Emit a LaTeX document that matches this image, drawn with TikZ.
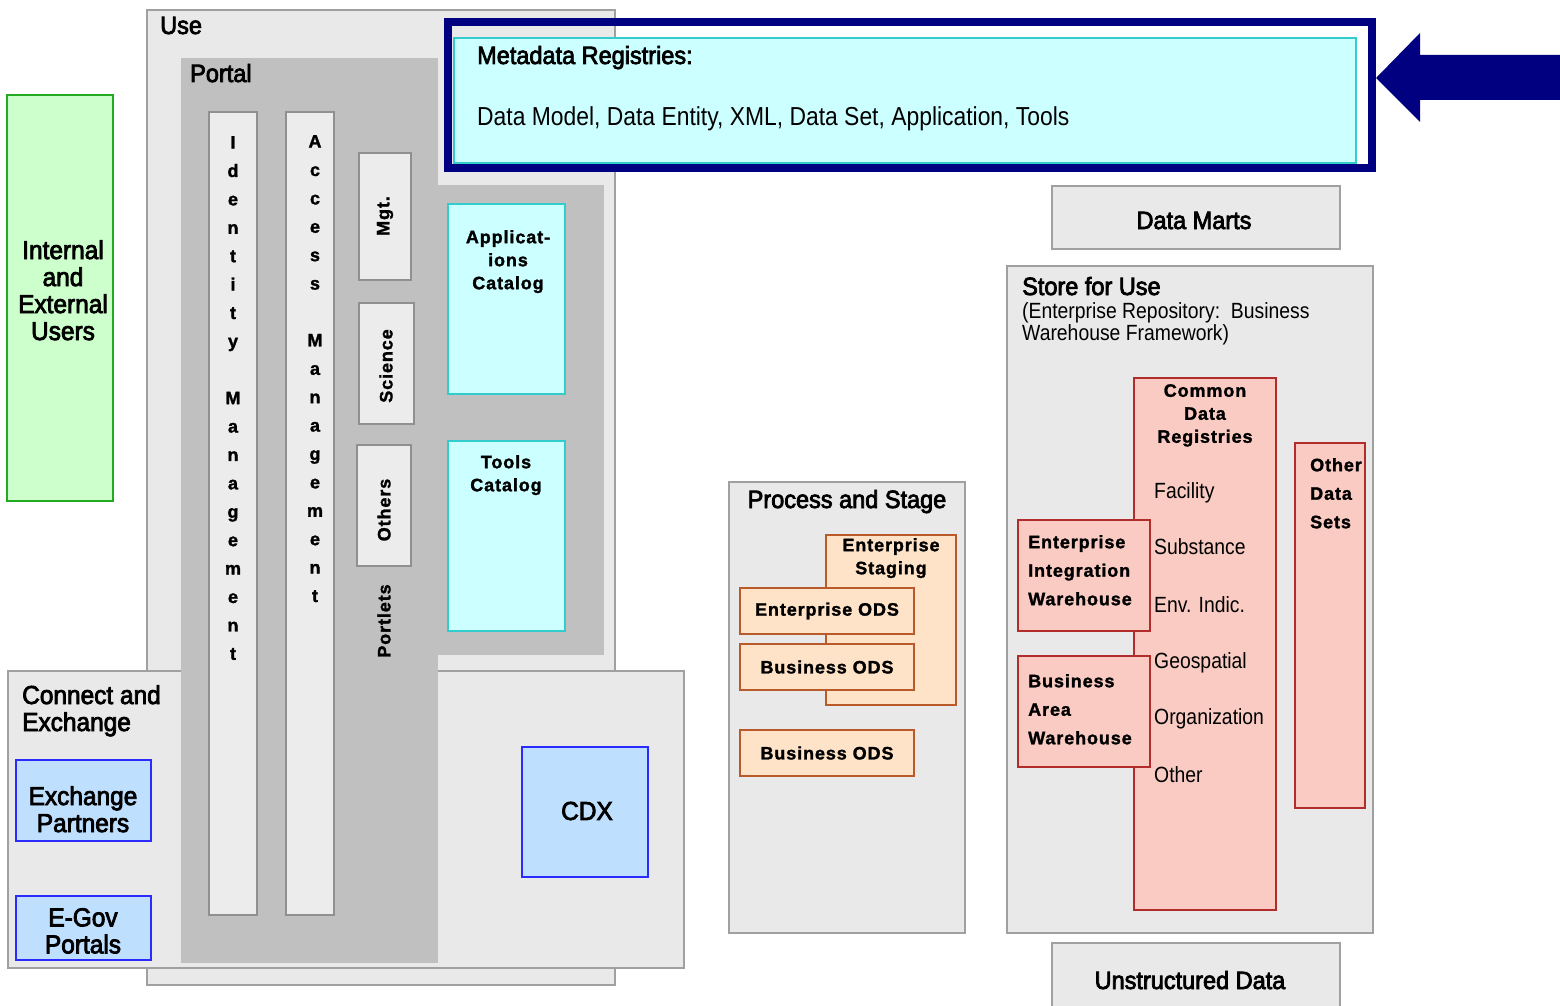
\documentclass[tikz,border=0pt]{standalone}
\usepackage{fontspec}
\setmainfont{Liberation Sans}[FakeStretch=0.88]
\newfontfamily\headfont{Liberation Sans}[FakeStretch=0.94, FakeBold=3]
\newfontfamily\tagfont{Liberation Sans}[LetterSpace=5, FakeBold=1.5]

\definecolor{panelgray}{HTML}{E9E9E9}
\definecolor{edgegray}{HTML}{A0A0A0}
\definecolor{portalgray}{HTML}{C0C0C0}
\definecolor{tabgray}{HTML}{ECECEC}
\definecolor{cyanfill}{HTML}{CCFFFF}
\definecolor{cyanedge}{HTML}{33CCCC}
\definecolor{navy}{HTML}{000080}
\definecolor{bluefill}{HTML}{BFDFFF}
\definecolor{blueedge}{HTML}{2B2BFF}
\definecolor{greenfill}{HTML}{CCFFCC}
\definecolor{greenedge}{HTML}{22AA22}
\definecolor{peachfill}{HTML}{FFE3C8}
\definecolor{peachedge}{HTML}{B85A2A}
\definecolor{pinkfill}{HTML}{F9CBC2}
\definecolor{pinkedge}{HTML}{B22C2C}

% a rectangle given by its top-left and bottom-right corners
\newcommand\zone[6]{%
  \node[#2, anchor=north west, inner sep=0pt, outer sep=0pt,
        minimum width={(#5)-(#3)}, minimum height={(#6)-(#4)}] (#1) at (#3,#4) {};}

\tikzset{
  panel/.style={draw=edgegray, fill=panelgray, line width=1.5pt},
  portal/.style={fill=portalgray},
  tab/.style={draw=edgegray!90!black, fill=tabgray, line width=1.5pt},
  catalog/.style={draw=cyanedge, fill=cyanfill, line width=1.5pt},
  partner/.style={draw=blueedge, fill=bluefill, line width=1.5pt},
  users/.style={draw=greenedge, fill=greenfill, line width=1.5pt},
  staging/.style={draw=peachedge, fill=peachfill, line width=1.5pt},
  warehouse/.style={draw=pinkedge, fill=pinkfill, line width=1.5pt},
  head/.style={font=\headfont\fontsize{25pt}{27pt}\selectfont, inner sep=0pt},
  bighead/.style={font=\headfont\fontsize{26pt}{27pt}\selectfont, inner sep=0pt, align=center},
  plain/.style={font=\fontsize{22pt}{22pt}\selectfont, inner sep=0pt},
  plainbig/.style={font=\fontsize{26pt}{28pt}\selectfont, inner sep=0pt},
  tag/.style={font=\tagfont\bfseries\fontsize{18pt}{23pt}\selectfont, inner sep=0pt, align=center},
  tagwide/.style={font=\tagfont\bfseries\fontsize{18pt}{28.5pt}\selectfont, inner sep=0pt, align=left},
  stack/.style={font=\tagfont\bfseries\fontsize{18pt}{28.4pt}\selectfont, inner sep=0pt, align=center},
  sidetab/.style={font=\tagfont\bfseries\fontsize{18pt}{20pt}\selectfont, inner sep=0pt, rotate=90},
}

\begin{document}
\begin{tikzpicture}[x=1pt, y=-1pt]
\useasboundingbox (0,0) rectangle (1560,1006);

% ---- Use area with its portal ----
\zone{use}{panel}{147}{10}{615}{985}
\zone{connect}{panel}{8}{671}{684}{968}
\zone{portal}{portal}{181}{58}{438}{963}
\zone{portalext}{portal}{438}{185}{604}{655}

\node[head, anchor=base west] (useLbl) at (160,34) {Use};
\node[head, anchor=base west] (portalLbl) at (190,82) {Portal};

\zone{ident}{tab}{209}{112}{257}{915}
\zone{access}{tab}{286}{112}{334}{915}
\node[stack, anchor=north] (identTxt) at (233,136)
  {I\\d\\e\\n\\t\\i\\t\\y\\[28.4pt]M\\a\\n\\a\\g\\e\\m\\e\\n\\t};
\node[stack, anchor=north] (accessTxt) at (315,135)
  {A\\c\\c\\e\\s\\s\\[28.4pt]M\\a\\n\\a\\g\\e\\m\\e\\n\\t};

\zone{mgt}{tab}{359}{153}{411}{280}
\zone{science}{tab}{359}{303}{414}{424}
\zone{others}{tab}{357}{445}{411}{566}
\node[sidetab] (mgtTxt) at (385,216) {Mgt.};
\node[sidetab] (scienceTxt) at (386,366) {Science};
\node[sidetab] (othersTxt) at (384,510) {Others};
\node[sidetab] (portletsTxt) at (384,621) {Portlets};

\zone{appcat}{catalog}{448}{204}{565}{394}
\zone{toolcat}{catalog}{448}{441}{565}{631}
\node[tag, anchor=north] (appcatTxt) at (508,230) {Applicat-\\ions\\Catalog};
\node[tag, anchor=north] (toolcatTxt) at (506,455) {Tools\\Catalog};

% ---- users ----
\zone{usersbox}{users}{7}{95}{113}{501}
\node[bighead, anchor=north] (usersTxt) at (63,240) {Internal\\and\\External\\Users};

% ---- connect and exchange ----
\node[bighead, align=left, anchor=base west] (connectLbl) at (22,731) {Connect and\\Exchange};
\zone{exch}{partner}{16}{760}{151}{841}
\zone{egov}{partner}{16}{896}{151}{960}
\zone{cdx}{partner}{522}{747}{648}{877}
\node[bighead, anchor=north] (exchTxt) at (83,786) {Exchange\\Partners};
\node[bighead, anchor=north] (egovTxt) at (83,908) {E-Gov\\Portals};
\node[bighead] (cdxTxt) at (587,811) {CDX};

% ---- metadata registries ----
\zone{metaframe}{draw=navy, line width=8pt}{448}{22}{1372}{168}
\zone{meta}{catalog}{454}{38}{1356}{163}
\node[head, anchor=base west] (metaLbl) at (477,64) {Metadata Registries:};
\node[plainbig, anchor=base west] (metaTxt) at (477,126)
  {Data Model, Data Entity, XML, Data Set, Application, Tools};

% block arrow pointing at the registries frame
\coordinate (arrowtip) at (1376,78);
\fill[navy] (arrowtip) -- (1420,33) -- (1420,55) -- (1560,55)
  -- (1560,100) -- (1420,100) -- (1420,122) -- cycle;

% ---- data marts ----
\zone{marts}{panel}{1052}{186}{1340}{249}
\node[head, anchor=base] (martsTxt) at (1194,229) {Data Marts};

% ---- process and stage ----
\zone{process}{panel}{729}{482}{965}{933}
\node[head, anchor=base] (processLbl) at (847,508) {Process and Stage};
\zone{staging}{staging}{826}{535}{956}{705}
\node[tag, anchor=north] (stagingTxt) at (891,538) {Enterprise\\Staging};
\zone{eods}{staging}{740}{588}{914}{634}
\zone{bods}{staging}{740}{644}{914}{690}
\zone{bodsb}{staging}{740}{730}{914}{776}
\node[tag] (eodsTxt) at (eods.center) {Enterprise ODS};
\node[tag] (bodsTxt) at (bods.center) {Business ODS};
\node[tag] (bodsbTxt) at (bodsb.center) {Business ODS};

% ---- store for use ----
\zone{store}{panel}{1007}{266}{1373}{933}
\node[head, anchor=base west] (storeLbl) at (1022,295) {Store for Use};
\node[plain, align=left, anchor=base west] (storeSub) at (1022,340)
  {(Enterprise Repository:\ \ Business\\[0pt]Warehouse Framework)};
\zone{cdr}{warehouse}{1134}{378}{1276}{910}
\node[tag, anchor=north] (cdrTxt) at (1205,384) {Common\\Data\\Registries};
\node[plain, anchor=base west] (facility) at (1154,498) {Facility};
\node[plain, anchor=base west] (substance) at (1154,554) {Substance};
\node[plain, anchor=base west] (envind) at (1154,612) {Env. Indic.};
\node[plain, anchor=base west] (geo) at (1154,668) {Geospatial};
\node[plain, anchor=base west] (org) at (1154,724) {Organization};
\node[plain, anchor=base west] (other) at (1154,782) {Other};
\zone{eiw}{warehouse}{1018}{520}{1150}{631}
\node[tagwide, anchor=north west] (eiwTxt) at (1028,535) {Enterprise\\Integration\\Warehouse};
\zone{baw}{warehouse}{1018}{656}{1150}{767}
\node[tagwide, anchor=north west] (bawTxt) at (1028,674) {Business\\Area\\Warehouse};
\zone{ods}{warehouse}{1295}{443}{1365}{808}
\node[tagwide, anchor=north west] (odsTxt) at (1310,458) {Other\\Data\\Sets};

% ---- unstructured data ----
\zone{unstr}{panel}{1052}{943}{1340}{1012}
\node[head, anchor=base] (unstrTxt) at (1190,989) {Unstructured Data};
\end{tikzpicture}
\end{document}
